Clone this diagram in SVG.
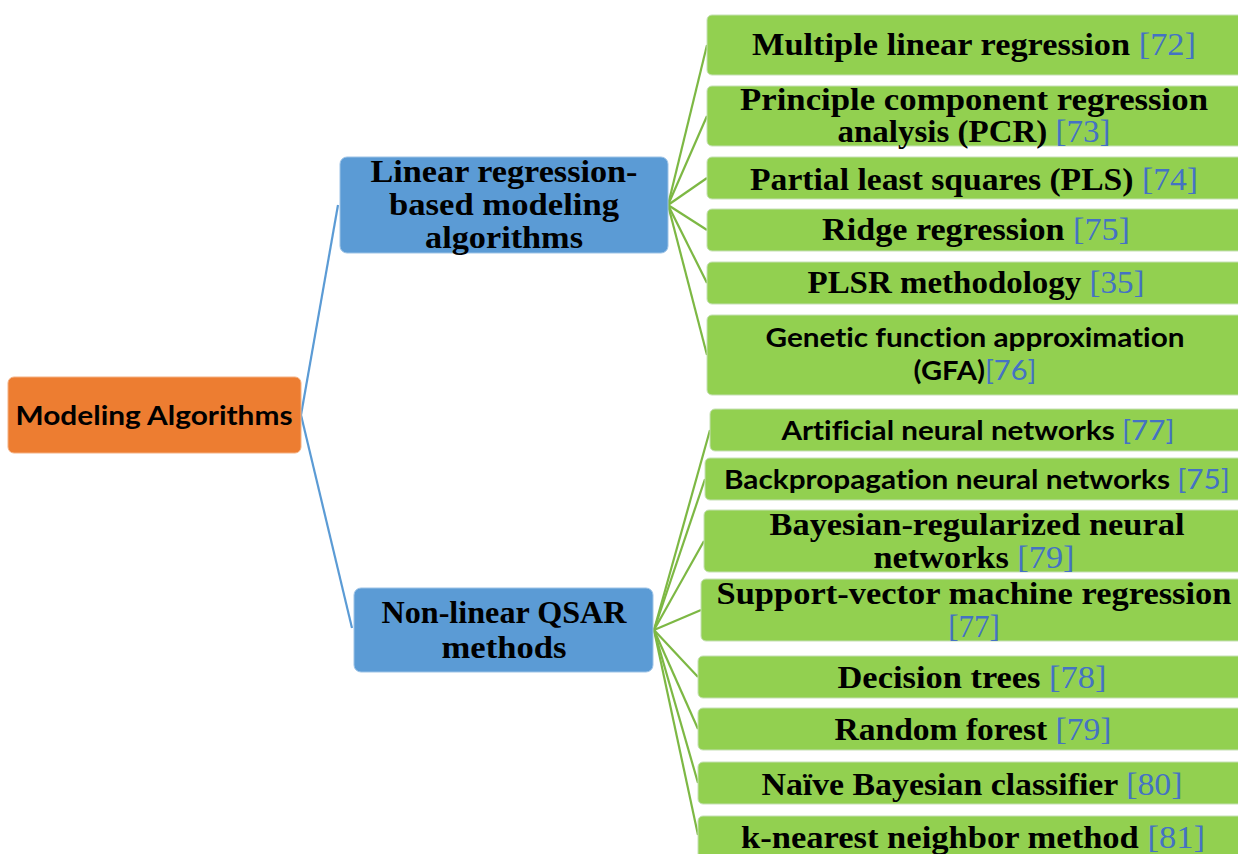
<svg xmlns="http://www.w3.org/2000/svg" width="1238" height="854" viewBox="0 0 1238 854">
<style>
.root{fill:#ED7D31;stroke:#F4B183;stroke-width:1}
.mid{fill:#5B9BD5;stroke:#9DC3E6;stroke-width:1}
.leaf{fill:#92D050;stroke:#C5E0B4;stroke-width:1}
.serif{font-family:"Liberation Serif","DejaVu Serif",serif;font-weight:bold;font-size:31px;fill:#000;text-anchor:middle}
.sans{font-family:Lato,"Liberation Sans","DejaVu Sans",sans-serif;font-weight:bold;font-size:27px;fill:#000;text-anchor:middle;font-variant-ligatures:none}
.cite{font-weight:normal;fill:#4472C4}
.lb{stroke:#5B9BD5;stroke-width:2.2;fill:none}
.lg{stroke:#7DB844;stroke-width:2.2;fill:none}
</style>
<rect width="1238" height="854" fill="#fff"/>
<g id="connectors">
<path class="lb" d="M301 415 L338 205"/>
<path class="lb" d="M301 415 L352 628"/>
<path class="lg" d="M668 205 L707 45"/>
<path class="lg" d="M668 205 L707 116"/>
<path class="lg" d="M668 205 L707 178"/>
<path class="lg" d="M668 205 L707 230"/>
<path class="lg" d="M668 205 L707 283"/>
<path class="lg" d="M668 205 L707 355"/>
<path class="lg" d="M654 630 L710 430"/>
<path class="lg" d="M654 630 L705 479"/>
<path class="lg" d="M654 630 L704 541"/>
<path class="lg" d="M654 630 L701 610"/>
<path class="lg" d="M654 630 L698 677"/>
<path class="lg" d="M654 630 L698 729"/>
<path class="lg" d="M654 630 L698 783"/>
<path class="lg" d="M654 630 L698 835"/>
</g>
<g id="root">
<rect class="root" x="8" y="377" width="293" height="76" rx="6"/>
<text class="sans" x="154" y="425" font-size="28" textLength="277" lengthAdjust="spacingAndGlyphs">Modeling Algorithms</text>
</g>
<g id="linear">
<rect class="mid" x="340" y="157" width="328" height="96" rx="7"/>
<text class="serif" x="504" y="182" textLength="267" lengthAdjust="spacingAndGlyphs">Linear regression-</text>
<text class="serif" x="504" y="215" textLength="230" lengthAdjust="spacingAndGlyphs">based modeling</text>
<text class="serif" x="504" y="248" textLength="158" lengthAdjust="spacingAndGlyphs">algorithms</text>
</g>
<g id="nonlinear">
<rect class="mid" x="354" y="588" width="299" height="84" rx="7"/>
<text class="serif" x="504" y="623" textLength="245" lengthAdjust="spacingAndGlyphs">Non-linear QSAR</text>
<text class="serif" x="504" y="658" textLength="125" lengthAdjust="spacingAndGlyphs">methods</text>
</g>
<g id="n1">
<rect class="leaf" x="707" y="15" width="540" height="60" rx="5"/>
<text class="serif" x="974" y="55" textLength="444" lengthAdjust="spacingAndGlyphs">Multiple linear regression <tspan class="cite">[72]</tspan></text>
</g>
<g id="n2">
<rect class="leaf" x="707" y="86" width="540" height="60" rx="5"/>
<text class="serif" x="974" y="110" textLength="468" lengthAdjust="spacingAndGlyphs">Principle component regression</text>
<text class="serif" x="974" y="142" textLength="273" lengthAdjust="spacingAndGlyphs">analysis (PCR) <tspan class="cite">[73]</tspan></text>
</g>
<g id="n3">
<rect class="leaf" x="707" y="157" width="540" height="42" rx="5"/>
<text class="serif" x="974" y="190" textLength="448" lengthAdjust="spacingAndGlyphs">Partial least squares (PLS) <tspan class="cite">[74]</tspan></text>
</g>
<g id="n4">
<rect class="leaf" x="707" y="209" width="540" height="42" rx="5"/>
<text class="serif" x="976" y="240" textLength="308" lengthAdjust="spacingAndGlyphs">Ridge regression <tspan class="cite">[75]</tspan></text>
</g>
<g id="n5">
<rect class="leaf" x="707" y="262" width="540" height="42" rx="5"/>
<text class="serif" x="976" y="293" textLength="337" lengthAdjust="spacingAndGlyphs">PLSR methodology <tspan class="cite">[35]</tspan></text>
</g>
<g id="n6">
<rect class="leaf" x="707" y="315" width="540" height="80" rx="5"/>
<text class="sans" x="975" y="347" textLength="419" lengthAdjust="spacingAndGlyphs">Genetic function approximation</text>
<text class="sans" x="975" y="380" textLength="123" lengthAdjust="spacingAndGlyphs">(GFA)<tspan class="cite">[76]</tspan></text>
</g>
<g id="n7">
<rect class="leaf" x="710" y="409" width="540" height="42" rx="5"/>
<text class="sans" x="978" y="440" textLength="393" lengthAdjust="spacingAndGlyphs">Artificial neural networks <tspan class="cite">[77]</tspan></text>
</g>
<g id="n8">
<rect class="leaf" x="705" y="458" width="545" height="42" rx="5"/>
<text class="sans" x="977" y="489" textLength="506" lengthAdjust="spacingAndGlyphs">Backpropagation neural networks <tspan class="cite">[75]</tspan></text>
</g>
<g id="n9">
<rect class="leaf" x="704" y="510" width="545" height="62" rx="5"/>
<text class="serif" x="977" y="535" textLength="415" lengthAdjust="spacingAndGlyphs">Bayesian-regularized neural</text>
<text class="serif" x="974" y="568" textLength="201" lengthAdjust="spacingAndGlyphs">networks <tspan class="cite">[79]</tspan></text>
</g>
<g id="n10">
<rect class="leaf" x="701" y="579" width="548" height="62" rx="5"/>
<text class="serif" x="974" y="604" textLength="515" lengthAdjust="spacingAndGlyphs">Support-vector machine regression</text>
<text class="serif cite" x="974" y="637">[77]</text>
</g>
<g id="n11">
<rect class="leaf" x="698" y="656" width="550" height="42" rx="5"/>
<text class="serif" x="972" y="688" textLength="269" lengthAdjust="spacingAndGlyphs">Decision trees <tspan class="cite">[78]</tspan></text>
</g>
<g id="n12">
<rect class="leaf" x="698" y="708" width="550" height="42" rx="5"/>
<text class="serif" x="973" y="740" textLength="277" lengthAdjust="spacingAndGlyphs">Random forest <tspan class="cite">[79]</tspan></text>
</g>
<g id="n13">
<rect class="leaf" x="698" y="762" width="550" height="42" rx="5"/>
<text class="serif" x="972" y="795" textLength="421" lengthAdjust="spacingAndGlyphs">Naïve Bayesian classifier <tspan class="cite">[80]</tspan></text>
</g>
<g id="n14">
<rect class="leaf" x="698" y="816" width="550" height="50" rx="5"/>
<text class="serif" x="973" y="848" textLength="464" lengthAdjust="spacingAndGlyphs">k-nearest neighbor method <tspan class="cite">[81]</tspan></text>
</g>
</svg>
